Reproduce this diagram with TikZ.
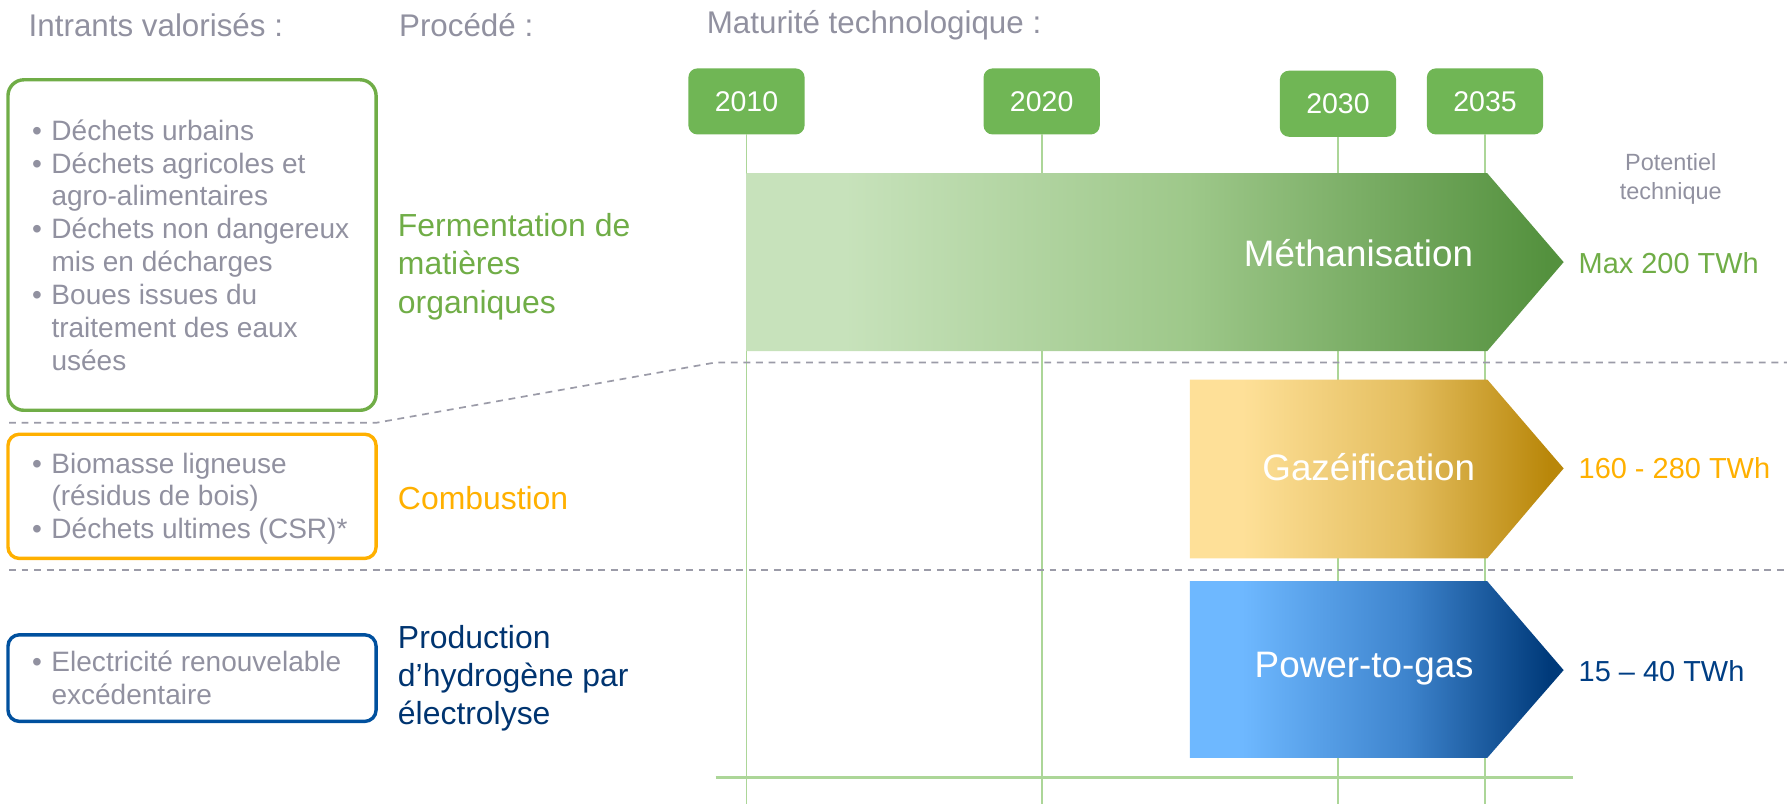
\documentclass[tikz,border=0pt]{standalone}
\usepackage{fontspec}
\setmainfont{Liberation Sans}
\usetikzlibrary{positioning}

\definecolor{gristexte}{RGB}{145,145,160}
\definecolor{grisligne}{RGB}{155,155,168}
\definecolor{vertmetha}{RGB}{112,173,71}
\definecolor{vertannee}{RGB}{112,182,85}
\definecolor{vertclair}{RGB}{172,214,152}
\definecolor{orcombu}{RGB}{255,176,0}
\definecolor{bleucadre}{RGB}{0,80,158}
\definecolor{bleutexte}{RGB}{0,52,112}
\definecolor{bleupot}{RGB}{0,62,132}

\definecolor{methaA}{RGB}{199,226,187}
\definecolor{methaB}{RGB}{158,200,138}
\definecolor{methaC}{RGB}{84,145,62}
\definecolor{gazA}{RGB}{254,224,152}
\definecolor{gazB}{RGB}{228,190,95}
\definecolor{gazC}{RGB}{185,135,10}
\definecolor{ptgA}{RGB}{110,184,255}
\definecolor{ptgB}{RGB}{62,132,205}
\definecolor{ptgC}{RGB}{0,58,122}

\pgfdeclarehorizontalshading{methadegrade}{100bp}{color(0bp)=(methaA); color(31bp)=(methaA); color(52bp)=(methaB); color(74bp)=(methaC); color(100bp)=(methaC)}
\pgfdeclarehorizontalshading{gazdegrade}{100bp}{color(0bp)=(gazA); color(32bp)=(gazA); color(54bp)=(gazB); color(73bp)=(gazC); color(100bp)=(gazC)}
\pgfdeclarehorizontalshading{ptgdegrade}{100bp}{color(0bp)=(ptgA); color(32bp)=(ptgA); color(54bp)=(ptgB); color(73bp)=(ptgC); color(100bp)=(ptgC)}

\newcommand{\puce}{\makebox[17pt][l]{\textbullet}}
\newcommand{\suite}{\hspace*{17pt}}

\begin{document}
\begin{tikzpicture}[x=1pt, y=-1pt,
    titre/.style={text=gristexte, font=\fontsize{27.5}{33}\selectfont, inner sep=0pt, anchor=west},
    cadre/.style={draw, line width=3pt, rounded corners=14pt, minimum width=323pt, outer sep=0pt, inner sep=0pt},
    liste/.style={text=gristexte, font=\fontsize{24.6}{28.8}\selectfont, align=left, inner sep=0pt, anchor=west},
    procede/.style={font=\fontsize{28}{33.5}\selectfont, align=left, inner sep=0pt, anchor=west},
    annee/.style={fill=vertannee, text=white, rounded corners=8pt, minimum width=102pt, minimum height=58pt, font=\fontsize{25}{30}\selectfont, inner sep=0pt, outer sep=0pt},
    repere/.style={draw=vertclair, line width=1.5pt},
    axe/.style={draw=vertclair, line width=2.5pt},
    separation/.style={draw=grisligne, line width=1.5pt, dash pattern=on 6pt off 5pt},
    etiquette/.style={text=white, font=\fontsize{32.3}{38}\selectfont, inner sep=0pt},
    potentiel/.style={font=\fontsize{25.4}{30}\selectfont, inner sep=0pt, anchor=west},
  ]
  \useasboundingbox (0,0) rectangle (1568,705.5);
  \coordinate (bas) at (0,705.5);

  % titres
  \node[titre] (intrants) at (25,22) {Intrants valorisés :};
  \node[titre] (procede) at (350,22) {Procédé :};
  \node[titre] (maturite) at (620,22) {Maturité technologique :};

  % annees et reperes
  \foreach \an/\x/\y in {2010/655/89, 2020/914/89, 2030/1174/91, 2035/1303/89} {
    \node[annee] (an\an) at (\x,\y) {\an};
    \draw[repere] (an\an.south) -- (an\an.south |- bas);
  }
  \draw[axe] (628,682) -- (1380,682);

  % intrants
  \node[cadre, draw=vertmetha, minimum height=290pt] (boiteMetha) at (168.5,215) {};
  \node[liste] (listeMetha) at ([xshift=21pt]boiteMetha.west) {\puce Déchets urbains\\
    \puce Déchets agricoles et\\ \suite agro-alimentaires\\
    \puce Déchets non dangereux\\ \suite mis en décharges\\
    \puce Boues issues du\\ \suite traitement des eaux\\ \suite usées};
  \node[cadre, draw=orcombu, minimum height=109pt, rounded corners=10pt] (boiteCombu) at (168.5,435.5) {};
  \node[liste] (listeCombu) at ([xshift=21pt,yshift=-2pt]boiteCombu.west) {\puce Biomasse ligneuse\\
    \suite (résidus de bois)\\ \puce Déchets ultimes (CSR)*};
  \node[cadre, draw=bleucadre, minimum height=76pt, rounded corners=10pt] (boiteElec) at (168.5,595) {};
  \node[liste] (listeElec) at ([xshift=21pt]boiteElec.west) {\puce Electricité renouvelable\\
    \suite excédentaire};

  % procedes
  \node[procede, text=vertmetha] (procMetha) at (349,234) {Fermentation de\\ matières\\ organiques};
  \node[procede, text=orcombu] (procCombu) at (349,437) {Combustion};
  \node[procede, text=bleutexte] (procElec) at (349,595) {Production\\ d’hydrogène par\\ électrolyse};

  % separations
  \draw[separation] (8,371) -- (330,371) -- (628,318) -- (1568,318);
  \draw[separation] (8,500) -- (1568,500);

  % fleches
  \shade[shading=methadegrade] (655,152) -- (1305,152) -- (1372,230) -- (1305,308) -- (655,308) -- cycle;
  \node[etiquette] (metha) at (1192,222) {Méthanisation};
  \shade[shading=gazdegrade] (1044,333) -- (1305,333) -- (1372,411) -- (1305,490) -- (1044,490) -- cycle;
  \node[etiquette] (gaz) at (1201,410) {Gazéification};
  \shade[shading=ptgdegrade] (1044,510) -- (1305,510) -- (1372,588) -- (1305,665) -- (1044,665) -- cycle;
  \node[etiquette] (ptg) at (1197,587) {Power-to-gas};

  % potentiels
  \node[text=gristexte, font=\fontsize{20.6}{25}\selectfont, align=center, inner sep=0pt] (potentiel) at (1466,157) {Potentiel\\ technique};
  \node[potentiel, text=vertmetha] (potMetha) at (1385,231) {Max 200 TWh};
  \node[potentiel, text=orcombu] (potCombu) at (1385,411) {160 - 280 TWh};
  \node[potentiel, text=bleupot] (potElec) at (1385,589) {15 – 40 TWh};
\end{tikzpicture}
\end{document}
